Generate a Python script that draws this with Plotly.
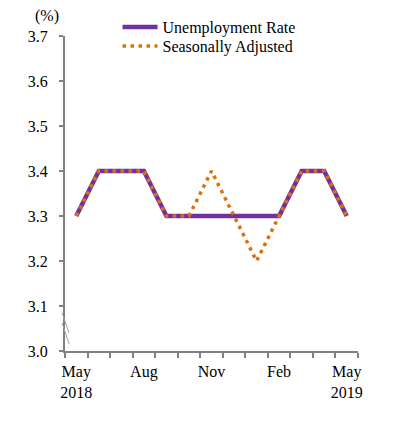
import plotly.graph_objects as go

months = ["2018-05", "2018-06", "2018-07", "2018-08", "2018-09", "2018-10", "2018-11",
          "2018-12", "2019-01", "2019-02", "2019-03", "2019-04", "2019-05"]
tick_labels = ["May<br>2018", "", "", "Aug", "", "", "Nov", "", "", "Feb", "", "", "May<br>2019"]
unemployment = [3.3, 3.4, 3.4, 3.4, 3.3, 3.3, 3.3, 3.3, 3.3, 3.3, 3.4, 3.4, 3.3]
seasonally_adj = [3.3, 3.4, 3.4, 3.4, 3.3, 3.3, 3.4, 3.3, 3.2, 3.3, 3.4, 3.4, 3.3]

FONT = "'Liberation Serif', 'Times New Roman', serif"
GRAY = "#808080"
FS = 16

fig = go.Figure()
fig.add_trace(go.Scatter(x=months, y=unemployment, mode="lines", name="Unemployment Rate",
                         line=dict(color="#7030A0", width=4.5), legend="legend"))
fig.add_trace(go.Scatter(x=months, y=seasonally_adj, mode="lines", name="Seasonally Adjusted",
                         line=dict(color="#D9720E", width=3.5, dash="3.5px,4.5px"),
                         legend="legend2"))

leg_common = dict(xref="container", yref="container", x=0.296,
                  xanchor="left", yanchor="top", bgcolor="rgba(0,0,0,0)",
                  font=dict(family=FONT, size=FS), itemwidth=35)

fig.update_layout(
    width=397, height=423,
    margin=dict(l=65, r=39, t=36, b=72, autoexpand=False),
    plot_bgcolor="white", paper_bgcolor="white",
    font=dict(family=FONT, size=FS, color="black"),
    showlegend=True,
    legend=dict(y=0.976, **leg_common),
    legend2=dict(y=0.931, **leg_common),
    xaxis=dict(type="category", tickmode="array", tickvals=months, ticktext=tick_labels,
               range=[-0.5, 12.5], tickangle=0, automargin=False, ticklabelstandoff=5,
               tickson="boundaries", ticks="outside", ticklen=5, tickcolor=GRAY, tickwidth=2,
               showline=True, linecolor=GRAY, linewidth=2, showgrid=False, zeroline=False),
    yaxis=dict(range=[3.0, 3.7], dtick=0.1, tick0=3.0, tickformat=".1f", automargin=False,
               ticks="outside", ticklen=4, tickcolor=GRAY, tickwidth=2, ticklabelstandoff=8,
               showline=True, linecolor=GRAY, linewidth=2, showgrid=False, zeroline=False),
    annotations=[dict(text="(%)", xref="paper", yref="paper", x=-0.062, y=1.03,
                      xanchor="center", yanchor="bottom", showarrow=False,
                      font=dict(family=FONT, size=FS))],
    shapes=[
        dict(type="line", xref="paper", yref="y", x0=-0.01, x1=0.014, y0=3.085, y1=3.04,
             line=dict(color="#A0A0A0", width=1)),
        dict(type="line", xref="paper", yref="y", x0=-0.01, x1=0.014, y0=3.062, y1=3.016,
             line=dict(color="#A0A0A0", width=1)),
    ],
)

fig.write_html("out.html", config={"displayModeBar": False},
               post_script="document.body.style.margin='0px';")
